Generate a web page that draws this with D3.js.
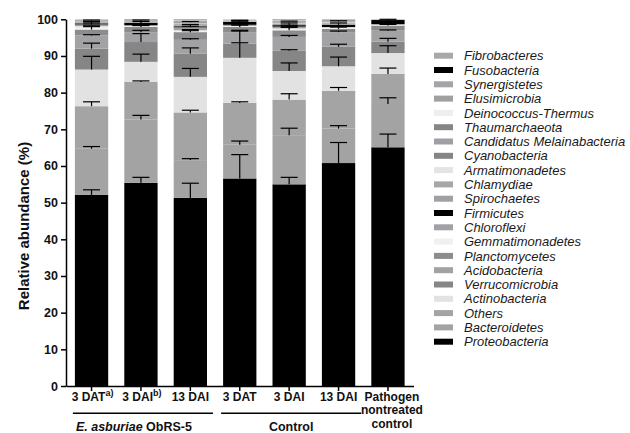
<!DOCTYPE html>
<html lang="en">
<head>
<meta charset="utf-8">
<title>Relative abundance</title>
<script src="https://d3js.org/d3.v7.min.js"></script>
<style>
    body { margin: 0; background: #fff; }
    svg text { font-family: "Liberation Sans", Arial, sans-serif; }
</style>
</head>
<body>
<div id="chart"></div>
<script>
    // samples (x axis)
    const sampleLabels = ["3 DAT", "3 DAI", "13 DAI", "3 DAT", "3 DAI", "13 DAI", "Pathogen nontreated control"];
    const sampleSup = ["a)", "b)", "", "", "", "", ""];
    const groupNames = ["E. asburiae ObRS-5", "Control"];
    const groupSpans = [[0, 2], [3, 5]];

    // stack order, bottom to top
    const phyla = ["Proteobacteria", "Bacteroidetes", "Others", "Actinobacteria", "Verrucomicrobia",
        "Acidobacteria", "Planctomycetes", "Gemmatimonadetes", "Chloroflexi", "Firmicutes",
        "Spirochaetes", "Chlamydiae", "Armatimonadetes", "Cyanobacteria", "Candidatus Melainabacteria",
        "Thaumarchaeota", "Deinococcus-Thermus", "Elusimicrobia", "Synergistetes", "Fusobacteria", "Fibrobacteres"];
    const colors = ["#000000", "#a3a3a3", "#a4a4a4", "#e2e2e2", "#868686",
        "#a2a2a5", "#8c8c8c", "#f0f0f0", "#a2a2a6", "#000000",
        "#a0a0a4", "#a6a6a6", "#e4e4e4", "#858585", "#a0a0a4",
        "#858585", "#eeeeee", "#a0a0a0", "#a4a4a8", "#000000", "#a8a8a8"];

    // mean relative abundance (%), one row per phylum, one column per sample
    const abundance = [
        [52.1, 55.4, 51.3, 56.6, 55.0, 60.8, 65.1],
        [12.6, 17.3, 10.3, 9.2, 13.4, 9.4, 11.8],
        [11.6, 10.2, 13.0, 11.4, 9.7, 10.3, 8.2],
        [10.0, 5.5, 9.7, 12.3, 7.8, 6.7, 5.7],
        [5.7, 5.4, 6.3, 3.9, 5.5, 5.3, 3.1],
        [3.6, 2.7, 3.8, 3.1, 3.8, 4.0, 3.0],
        [1.6, 1.4, 2.1, 1.4, 1.8, 0.9, 1.4],
        [0.9, 0.3, 0.5, 0.3, 0.5, 0.4, 0.2],
        [0.5, 0.2, 0.8, 0.3, 0.5, 0.1, 0.2],
        [0.3, 0.6, 0.3, 0.8, 0.4, 0.6, 1.1],
        [0.2, 0.2, 0.3, 0.1, 0.3, 0.3, 0.03],
        [0.2, 0.1, 0.3, 0.1, 0.2, 0.2, 0.02],
        [0.1, 0.1, 0.2, 0.05, 0.2, 0.2, 0.02],
        [0.2, 0.2, 0.3, 0.1, 0.2, 0.2, 0.02],
        [0.1, 0.1, 0.2, 0.05, 0.1, 0.2, 0.02],
        [0.1, 0.1, 0.2, 0.05, 0.2, 0.2, 0.02],
        [0.1, 0.05, 0.1, 0.05, 0.1, 0.05, 0.02],
        [0.05, 0.05, 0.1, 0.03, 0.1, 0.05, 0.02],
        [0.02, 0.05, 0.1, 0.03, 0.1, 0.05, 0.02],
        [0.02, 0.05, 0.05, 0.02, 0.05, 0.03, 0.01],
        [0.01, 0.05, 0.05, 0.02, 0.05, 0.02, 0.01]
    ];

    // standard deviation (%), same layout
    const sd = [
        [1.4, 1.5, 4.0, 6.5, 1.9, 5.6, 3.6],
        [0.6, 1.1, 0.4, 1.0, 1.9, 0.8, 1.7],
        [1.2, 0.3, 0.6, 0.3, 1.6, 0.9, 1.6],
        [3.6, 2.1, 2.3, 4.1, 2.2, 2.5, 2.0],
        [1.5, 2.3, 1.6, 3.6, 0.3, 0.7, 0.9],
        [0.2, 0.5, 0.3, 0.3, 0.4, 0.3, 0.2],
        [0.8, 0.4, 0.4, 1.6, 1.1, 0.5, 0.8],
        [0.3, 0.2, 0.2, 0.2, 0.3, 0.2, 0.1],
        [0.4, 0.3, 0.3, 0.2, 0.4, 0.4, 0.2],
        [0.5, 0.4, 0.5, 0.3, 0.6, 0.5, 0.2],
        [0, 0, 0, 0, 0, 0, 0],
        [0, 0, 0, 0, 0, 0, 0],
        [0, 0, 0, 0, 0, 0, 0],
        [0.2, 0.2, 0.2, 0.1, 0.2, 0.2, 0],
        [0, 0, 0, 0, 0, 0, 0],
        [0, 0, 0, 0, 0, 0, 0],
        [0, 0, 0, 0, 0, 0, 0],
        [0, 0, 0, 0, 0, 0, 0],
        [0, 0, 0, 0, 0, 0, 0],
        [0, 0, 0, 0, 0, 0, 0],
        [0, 0, 0, 0, 0, 0, 0]
    ];

    const yTicks = [0, 10, 20, 30, 40, 50, 60, 70, 80, 90, 100];

    const width = 630;
    const height = 433;

    const svg = d3.select("#chart")
        .append("svg")
        .attr("width", width)
        .attr("height", height);

    const rows = sampleLabels.map((s, j) => {
        const r = {sample: j};
        phyla.forEach((p, i) => r[p] = abundance[i][j]);
        return r;
    });

    const x = d3.scaleBand()
        .domain(d3.range(sampleLabels.length))
        .range([66, 413.5])
        .paddingInner(0.326)
        .paddingOuter(0.18);

    const y = d3.scaleLinear()
        .domain([0, 100])
        .range([386, 19.3]);

    const stacked = d3.stack().keys(phyla)(rows);

    // bars
    svg.append("g")
        .selectAll("g")
        .data(stacked)
        .enter()
        .append("g")
            .attr("fill", (d, i) => colors[i])
        .selectAll("rect")
        .data(d => d)
        .enter()
        .append("rect")
            .attr("x", d => x(d.data.sample))
            .attr("y", d => y(d[1]))
            .attr("width", x.bandwidth())
            .attr("height", d => y(d[0]) - y(d[1]));

    // error bars (upper only)
    const errs = [];
    stacked.forEach((layer, i) => {
        layer.forEach((d, j) => {
            if (sd[i][j] > 0) errs.push({j: j, top: d[1], hi: d[1] + sd[i][j]});
        });
    });
    const capW = 17;
    const eg = svg.append("g").attr("stroke", "#000").attr("stroke-width", 1.2);
    eg.selectAll("line.stem")
        .data(errs)
        .enter()
        .append("line")
            .attr("class", "stem")
            .attr("x1", d => x(d.j) + x.bandwidth() / 2)
            .attr("x2", d => x(d.j) + x.bandwidth() / 2)
            .attr("y1", d => y(d.top))
            .attr("y2", d => y(d.hi));
    eg.selectAll("line.cap")
        .data(errs)
        .enter()
        .append("line")
            .attr("class", "cap")
            .attr("x1", d => x(d.j) + x.bandwidth() / 2 - capW / 2)
            .attr("x2", d => x(d.j) + x.bandwidth() / 2 + capW / 2)
            .attr("y1", d => y(d.hi))
            .attr("y2", d => y(d.hi));

    // axes
    const yAxis = d3.axisLeft(y).tickValues(yTicks).tickSize(5).tickSizeOuter(0);
    const gy = svg.append("g")
        .attr("transform", "translate(66,0)")
        .call(yAxis);
    gy.selectAll("path, line").attr("stroke", "#000").attr("stroke-width", 1.5);
    gy.selectAll("text")
        .attr("font-size", "12.5px")
        .attr("font-weight", "bold")
        .attr("fill", "#111")
        .attr("font-family", "'Liberation Sans', Arial, sans-serif");

    const xAxis = d3.axisBottom(x).tickSize(5).tickSizeOuter(0).tickFormat("");
    const gx = svg.append("g")
        .attr("transform", "translate(0,386)")
        .call(xAxis);
    gx.selectAll("path, line").attr("stroke", "#000").attr("stroke-width", 1.5);

    // x tick labels
    const labels = svg.append("g")
        .attr("font-size", "12px")
        .attr("font-weight", "bold")
        .attr("fill", "#111")
        .attr("text-anchor", "middle");

    sampleLabels.forEach((lab, j) => {
        const cx = x(j) + x.bandwidth() / 2;
        if (j === sampleLabels.length - 1) {
            const t = labels.append("text").attr("x", cx + 4).attr("y", 400.5);
            ["Pathogen", "nontreated", "control"].forEach((w, k) => {
                t.append("tspan").attr("x", cx + 4).attr("y", 400.5 + k * 13.5).text(w);
            });
        } else {
            const t = labels.append("text").attr("x", cx + (sampleSup[j] ? 1 : 0)).attr("y", 400.5);
            t.append("tspan").text(lab);
            if (sampleSup[j]) {
                t.append("tspan")
                    .attr("font-size", "9px")
                    .attr("dy", -4.5)
                    .text(sampleSup[j]);
            }
        }
    });

    // group lines + labels
    groupSpans.forEach((sp, g) => {
        const x1 = x(sp[0]) - 2;
        const x2 = x(sp[1]) + x.bandwidth() + 6;
        svg.append("line")
            .attr("x1", x1).attr("x2", x2)
            .attr("y1", 413.3).attr("y2", 413.3)
            .attr("stroke", "#000")
            .attr("stroke-width", 1.5);
        const t = svg.append("text")
            .attr("y", 431)
            .attr("font-size", "12.5px")
            .attr("font-weight", "bold")
            .attr("fill", "#111");
        if (g === 0) {
            t.attr("x", x1 + 3).attr("text-anchor", "start");
            const parts = groupNames[g].split(" ");
            t.append("tspan").attr("font-style", "italic").text(parts[0] + " " + parts[1] + " ");
            t.append("tspan").text(parts.slice(2).join(" "));
        } else {
            t.attr("x", (x1 + x2) / 2).attr("text-anchor", "middle").text(groupNames[g]);
        }
    });

    // y label
    svg.append("text")
        .attr("transform", "translate(24,226) rotate(-90)")
        .attr("text-anchor", "middle")
        .attr("dy", "0.35em")
        .attr("font-size", "15px")
        .attr("font-weight", "bold")
        .attr("fill", "#111")
        .text("Relative abundance (%)");

    // legend (top = last stacked)
    const legendOrder = d3.range(phyla.length).reverse();
    const lg = svg.append("g").attr("transform", "translate(434,55.7)");
    const item = lg.selectAll("g")
        .data(legendOrder)
        .enter()
        .append("g")
            .attr("transform", (d, k) => "translate(0," + (k * 14.3) + ")");
    item.append("rect")
        .attr("x", 0)
        .attr("y", -3)
        .attr("width", 19)
        .attr("height", 6)
        .attr("fill", d => colors[d]);
    item.append("text")
        .attr("x", 30)
        .attr("dy", "0.36em")
        .attr("font-size", "13px")
        .attr("font-style", "italic")
        .attr("fill", "#1a1a1a")
        .text(d => phyla[d]);
</script>
</body>
</html>
